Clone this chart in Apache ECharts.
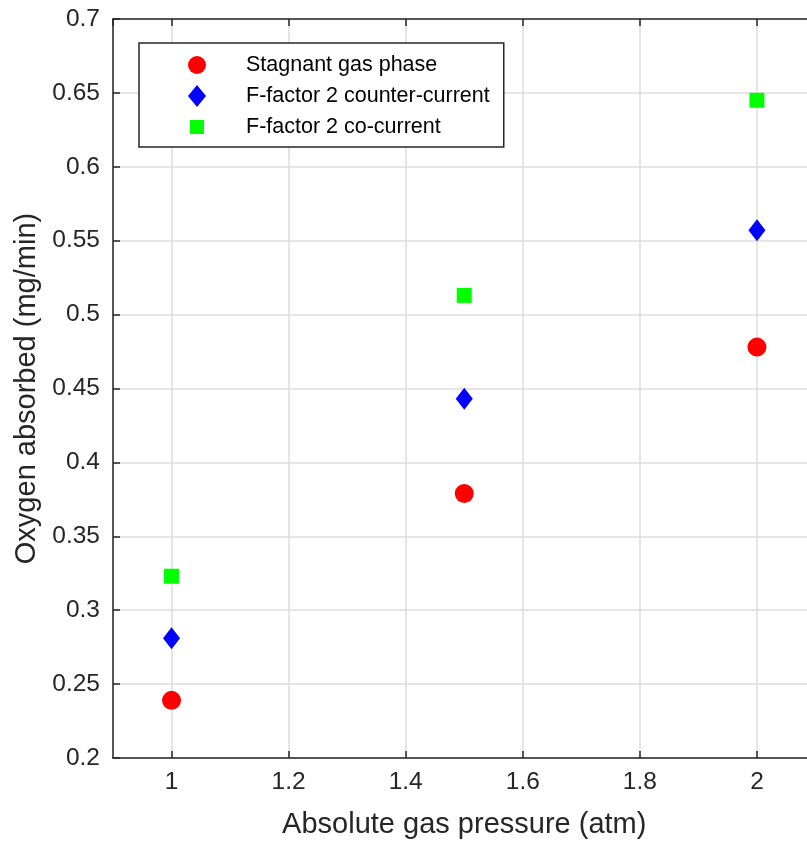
<!DOCTYPE html>
<html>
<head>
<meta charset="utf-8">
<script src="https://cdn.jsdelivr.net/npm/echarts@6/dist/echarts.min.js"></script>
<style>
  html, body { margin: 0; padding: 0; background: #fff; overflow: hidden; }
  /* the plot box runs a few pixels past the right edge of the window */
  #chart { width: 820px; height: 844px; }
</style>
</head>
<body>
<div id="chart"></div>
<script>
// Oxygen absorption vs absolute gas pressure
const pressures = [1, 1.5, 2];
const stagnant = [0.239, 0.379, 0.478];
const counterCurrent = [0.281, 0.443, 0.557];
const coCurrent = [0.323, 0.513, 0.645];

const seriesNames = ['Stagnant gas phase', 'F-factor 2 counter-current', 'F-factor 2 co-current'];
const xTitle = 'Absolute gas pressure (atm)';
const yTitle = 'Oxygen absorbed (mg/min)';

const FONT = '"Liberation Sans", Arial, Helvetica, sans-serif';
const INK = '#262626';
const GRID = '#dcdcdc';

function pairs(xs, ys) { return xs.map((x, i) => [x, ys[i]]); }

const chart = echarts.init(document.getElementById('chart'), null, { renderer: 'canvas' });

const axisCommon = {
  axisLine: { show: true, onZero: false, lineStyle: { color: INK, width: 1.5 } },
  axisTick: { show: true, inside: true, length: 7, lineStyle: { color: INK, width: 1.5 } },
  splitLine: { show: true, lineStyle: { color: GRID, width: 1.5 } }
};

// small square legend icon: invisible zero-area corners pad the box to 18x22
const squareIcon = 'path://M0,0L0.01,0ZM18,22L17.99,22ZM2,4h14v14h-14z';

chart.setOption({
  animation: false,
  backgroundColor: '#ffffff',
  grid: { left: 113, top: 19, right: 4.5, bottom: 84, containLabel: false },
  xAxis: [
    Object.assign({
      type: 'value', position: 'bottom', min: 0.9, max: 2.1,
      name: xTitle, nameLocation: 'middle', nameGap: 52,
      nameTextStyle: { fontFamily: FONT, fontSize: 29, color: INK },
      axisLabel: {
        fontFamily: FONT, fontSize: 24.5, color: INK, margin: 12,
        showMinLabel: false, showMaxLabel: false,
        formatter: v => String(parseFloat(v.toFixed(2)))
      }
    }, axisCommon),
    Object.assign({
      type: 'value', position: 'top', min: 0.9, max: 2.1,
      axisLabel: { show: false }
    }, axisCommon, { splitLine: { show: false } })
  ],
  yAxis: Object.assign({
    type: 'value', min: 0.2, max: 0.7, interval: 0.05,
    name: yTitle, nameLocation: 'middle', nameGap: 70, nameRotate: 90,
    nameTextStyle: { fontFamily: FONT, fontSize: 29, color: INK },
    axisLabel: {
      fontFamily: FONT, fontSize: 24.5, color: INK, margin: 13,
      formatter: v => String(parseFloat(v.toFixed(2)))
    }
  }, axisCommon),
  legend: {
    orient: 'vertical',
    left: 139, top: 43,
    padding: [11, 14, 9, 49],
    borderColor: INK, borderWidth: 1.5,
    backgroundColor: '#ffffff',
    itemWidth: 18, itemHeight: 22, itemGap: 9,
    textStyle: { fontFamily: FONT, fontSize: 21.5, color: '#000', padding: [0, 0, 0, 35] },
    data: [
      { name: seriesNames[0], icon: 'circle' },
      { name: seriesNames[1], icon: 'diamond' },
      { name: seriesNames[2], icon: squareIcon }
    ]
  },
  series: [
    {
      name: seriesNames[0], type: 'scatter', symbol: 'circle', symbolSize: 19,
      itemStyle: { color: '#ff0000', opacity: 1 }, data: pairs(pressures, stagnant), z: 3
    },
    {
      name: seriesNames[1], type: 'scatter', symbol: 'diamond', symbolSize: [17, 22],
      itemStyle: { color: '#0000ff', opacity: 1 }, data: pairs(pressures, counterCurrent), z: 3
    },
    {
      name: seriesNames[2], type: 'scatter', symbol: 'rect', symbolSize: 15,
      itemStyle: { color: '#00ff00', opacity: 1 }, data: pairs(pressures, coCurrent), z: 3
    }
  ]
});
</script>
</body>
</html>
